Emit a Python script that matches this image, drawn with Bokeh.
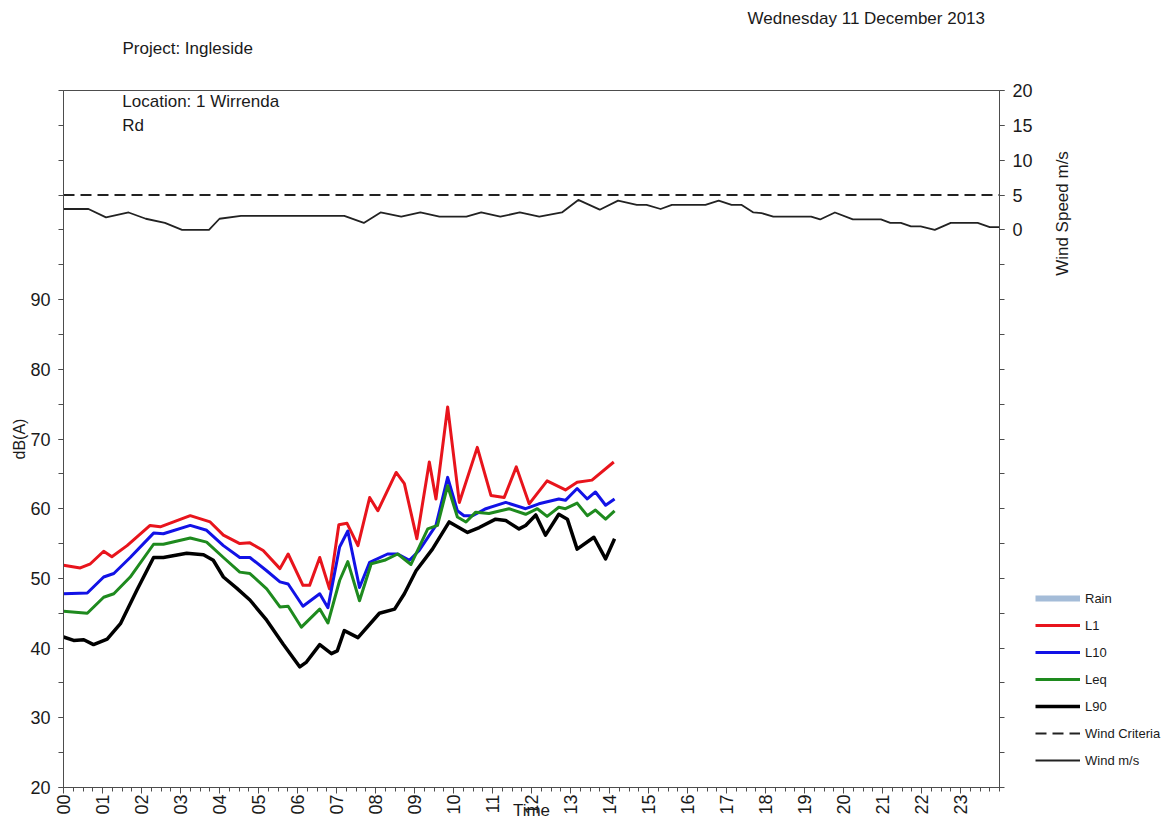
import math
from bokeh.plotting import figure
from bokeh.layouts import row, column
from bokeh.models import (Range1d, LinearAxis, FixedTicker, Legend, LegendItem)
from bokeh.core.properties import value
from bokeh.embed import file_html
from bokeh.resources import INLINE

# ---------------- data (hours of day, dB(A) / m/s) ----------------
l1_t = [0.0, 0.43, 0.69, 1.03, 1.24, 1.63, 2.22, 2.48, 3.25, 3.76, 4.1, 4.52, 4.78, 5.12, 5.55, 5.76,
        6.14, 6.31, 6.57, 6.82, 7.06, 7.27, 7.55, 7.85, 8.06, 8.53, 8.74, 9.06, 9.38, 9.55, 9.85,
        10.15, 10.61, 10.96, 11.3, 11.61, 11.94, 12.4, 12.87, 13.17, 13.55, 14.11]
l1_v = [51.9, 51.5, 52.1, 53.9, 53.1, 54.7, 57.6, 57.4, 59.0, 58.1, 56.2, 55.0, 55.1, 54.0, 51.4, 53.5,
        49.0, 49.0, 53.0, 48.5, 57.7, 57.9, 54.7, 61.6, 59.7, 65.2, 63.6, 55.7, 66.7, 61.4, 74.6,
        60.9, 68.8, 61.9, 61.6, 66.0, 60.7, 64.0, 62.7, 63.8, 64.1, 66.7]

l10_t = [0.0, 0.61, 1.03, 1.29, 1.71, 2.31, 2.56, 3.25, 3.67, 4.1, 4.52, 4.78, 5.21, 5.55, 5.76,
         6.14, 6.57, 6.78, 7.08, 7.29, 7.59, 7.85, 8.31, 8.57, 8.87, 9.12, 9.55, 9.85, 10.1, 10.27,
         10.49, 10.83, 11.34, 11.85, 12.19, 12.7, 12.87, 13.17, 13.43, 13.64, 13.9, 14.13]
l10_v = [47.8, 47.9, 50.2, 50.7, 53.0, 56.5, 56.4, 57.6, 56.9, 54.7, 53.0, 53.0, 51.1, 49.5, 49.2,
         46.0, 47.8, 45.8, 54.5, 56.8, 48.7, 52.3, 53.5, 53.5, 52.6, 54.0, 57.6, 64.5, 59.7, 59.0,
         59.0, 60.0, 60.9, 60.0, 60.7, 61.4, 61.2, 62.9, 61.4, 62.4, 60.5, 61.4]

leq_t = [0.0, 0.61, 1.03, 1.29, 1.71, 2.31, 2.56, 3.25, 3.67, 4.1, 4.52, 4.78, 5.21, 5.55, 5.76,
         6.1, 6.57, 6.78, 7.08, 7.29, 7.59, 7.89, 8.23, 8.57, 8.91, 9.34, 9.59, 9.85, 10.1, 10.32,
         10.57, 10.91, 11.42, 11.85, 12.15, 12.4, 12.7, 12.87, 13.17, 13.43, 13.64, 13.9, 14.13]
leq_v = [45.3, 45.0, 47.3, 47.8, 50.2, 54.9, 54.9, 55.8, 55.2, 53.0, 50.9, 50.7, 48.5, 45.9, 46.0,
         43.0, 45.6, 43.6, 49.7, 52.4, 46.8, 52.1, 52.6, 53.5, 52.0, 57.1, 57.6, 63.3, 58.8, 58.1,
         59.5, 59.3, 60.0, 59.2, 60.0, 58.9, 60.2, 60.0, 60.8, 59.0, 59.8, 58.5, 59.7]

l90_t = [0.0, 0.26, 0.52, 0.77, 1.12, 1.46, 1.88, 2.31, 2.56, 3.16, 3.59, 3.84, 4.1, 4.44, 4.78,
         5.21, 5.63, 6.06, 6.23, 6.57, 6.87, 7.02, 7.2, 7.55, 8.1, 8.49, 8.74, 9.04, 9.46, 9.89,
         10.36, 10.66, 11.08, 11.34, 11.68, 11.85, 12.11, 12.36, 12.7, 12.92, 13.17, 13.6, 13.9, 14.13]
l90_v = [41.6, 41.1, 41.2, 40.5, 41.3, 43.5, 48.3, 53.0, 53.0, 53.6, 53.4, 52.6, 50.2, 48.6, 46.9,
         44.0, 40.6, 37.3, 38.0, 40.5, 39.2, 39.6, 42.5, 41.5, 45.0, 45.6, 47.8, 51.1, 54.2, 58.1,
         56.6, 57.3, 58.5, 58.3, 57.1, 57.6, 59.1, 56.2, 59.2, 58.5, 54.2, 55.9, 52.8, 55.7]

wind_t = [0.0, 0.64, 1.09, 1.67, 2.11, 2.6, 3.04, 3.73, 4.0, 4.55, 7.2, 7.7, 8.13, 8.66, 9.15, 9.64,
          10.33, 10.71, 11.2, 11.7, 12.2, 12.78, 13.2, 13.75, 14.22, 14.7, 14.95, 15.31, 15.6, 16.46,
          16.8, 17.13, 17.38, 17.69, 17.9, 18.2, 19.17, 19.4, 19.78, 20.24, 20.96, 21.2, 21.47, 21.73,
          21.98, 22.34, 22.75, 23.44, 23.75, 24.0]
wind_v = [3.0, 3.0, 1.8, 2.5, 1.6, 1.0, 0.0, 0.0, 1.6, 2.0, 2.0, 1.0, 2.5, 1.9, 2.5, 1.9,
          1.9, 2.5, 1.9, 2.5, 1.9, 2.5, 4.3, 2.9, 4.2, 3.6, 3.6, 3.0, 3.6, 3.6,
          4.2, 3.6, 3.6, 2.5, 2.4, 1.9, 1.9, 1.5, 2.5, 1.5, 1.5, 1.0, 1.0, 0.5,
          0.5, 0.0, 1.0, 1.0, 0.4, 0.4]

wind_criteria = 5.0
hour_labels = ["%02d" % h for h in range(24)]
db_ticks = [20, 30, 40, 50, 60, 70, 80, 90]
wind_ticks = [0, 5, 10, 15, 20]
legend_labels = ["Rain", "L1", "L10", "Leq", "L90", "Wind Criteria", "Wind m/s"]

FONT = "Liberation Sans"
TXT = "#1a1a1a"
AX = "#4d4d4d"
HEAD = 80           # header strip height (px)
MTOP = 10           # space above the chart frame inside the chart canvas
BODY_H = 742        # chart canvas height (px)
BOTTOM = 35
LEFT = 63
MAIN_W = 1035
SIDE_W = 137
FRAME_R = MAIN_W - 33        # right edge of the plotting frame (px)
FRAME_TOP = HEAD + MTOP      # page y of the frame top
FRAME_BOT = HEAD + BODY_H - BOTTOM

# styles shared by the plot lines and the legend samples
STY = {
    "Rain": dict(line_color="#a4bcd8", line_width=6),
    "L1": dict(line_color="#e8141c", line_width=3, line_join="round"),
    "L10": dict(line_color="#1212e6", line_width=3, line_join="round"),
    "Leq": dict(line_color="#1e8a1e", line_width=3, line_join="round"),
    "L90": dict(line_color="black", line_width=3.5, line_join="round"),
    "Wind Criteria": dict(line_color="#222222", line_width=2, line_dash="11 6"),
    "Wind m/s": dict(line_color="#222222", line_width=1.8, line_join="round"),
}

# ---- header strip (frame aligned with the chart frame, page pixel coordinates) ----
h = figure(width=MAIN_W, height=HEAD, output_backend="svg", toolbar_location=None, title=None,
           x_range=Range1d(LEFT, FRAME_R), y_range=Range1d(-HEAD, 0),
           x_axis_type=None, y_axis_type=None, min_border=0,
           min_border_left=LEFT, min_border_right=MAIN_W - FRAME_R, min_border_top=0,
           min_border_bottom=0, outline_line_color=None)
h.grid.visible = False
h.text(x=[122, 747], y=[-48, -18], text=["Project: Ingleside", "Wednesday 11 December 2013"],
       text_font=value(FONT), text_font_size="17px", text_color=TXT,
       text_align="left", text_baseline="middle")

# ---- main chart ----
p = figure(width=MAIN_W, height=BODY_H, output_backend="svg", toolbar_location=None, title=None,
           x_range=Range1d(0, 24), y_range=Range1d(20, 120),
           min_border_left=LEFT, min_border_right=MAIN_W - FRAME_R, min_border_top=MTOP,
           min_border_bottom=BOTTOM, background_fill_color="white", border_fill_color="white")
p.outline_line_color = AX
p.outline_line_width = 1
p.grid.visible = False
p.extra_y_ranges = {"wind": Range1d(-80, 20)}

xa = p.xaxis[0]
xa.ticker = FixedTicker(ticks=list(range(24)), minor_ticks=[i * 0.25 for i in range(97)])
xa.major_label_overrides = {i: hour_labels[i] for i in range(24)}
xa.major_label_orientation = math.pi / 2
xa.major_label_standoff = 1
xa.major_tick_out = 6
xa.major_tick_in = 0
xa.minor_tick_out = 4
xa.minor_tick_in = 0
xa.axis_label = "Time"
xa.axis_label_standoff = -17
xa.axis_label_text_font_size = "17px"

ya = p.yaxis[0]
ya.ticker = FixedTicker(ticks=db_ticks, minor_ticks=list(range(20, 121, 5)))
ya.major_label_standoff = 8
ya.major_tick_out = 5
ya.major_tick_in = 0
ya.minor_tick_out = 5
ya.minor_tick_in = 0
ya.axis_label = "dB(A)"
ya.axis_label_standoff = -1
ya.axis_label_text_font_size = "16px"

ra = LinearAxis(y_range_name="wind")
ra.ticker = FixedTicker(ticks=wind_ticks, minor_ticks=list(range(-80, 21, 5)))
ra.major_label_standoff = 8
ra.major_tick_out = 5
ra.major_tick_in = 0
ra.minor_tick_out = 5
ra.minor_tick_in = 0
p.add_layout(ra, "right")

for ax in (xa, ya, ra):
    ax.axis_line_color = AX
    ax.major_tick_line_color = AX
    ax.minor_tick_line_color = AX
    ax.major_label_text_font = FONT
    ax.major_label_text_font_size = "18px"
    ax.major_label_text_color = TXT
    ax.axis_label_text_font = FONT
    ax.axis_label_text_font_style = "normal"
    ax.axis_label_text_color = TXT

p.line(l1_t, l1_v, **STY["L1"])
p.line(l10_t, l10_v, **STY["L10"])
p.line(leq_t, leq_v, **STY["Leq"])
p.line(l90_t, l90_v, **STY["L90"])
p.line([0, 24], [wind_criteria, wind_criteria], y_range_name="wind", **STY["Wind Criteria"])
p.line(wind_t, wind_v, y_range_name="wind", **STY["Wind m/s"])

# location note inside the frame
p.text(x=[(122 - 63) / 39.125] * 2, y=[20 + (787 - 101) / 6.97, 20 + (787 - 125) / 6.97],
       text=["Location: 1 Wirrenda", "Rd"], text_font=value(FONT), text_font_size="17px",
       text_color=TXT, text_baseline="middle", text_align="left")

# ---- side panel: right-axis title and legend (page pixel coordinates, y negated) ----
s = figure(width=SIDE_W, height=BODY_H, output_backend="svg", toolbar_location=None, title=None,
           x_range=Range1d(0, SIDE_W), y_range=Range1d(-FRAME_BOT, -FRAME_TOP),
           x_axis_type=None, y_axis_type=None, min_border=0,
           min_border_left=0, min_border_right=0, min_border_top=MTOP,
           min_border_bottom=BOTTOM, outline_line_color=None)
s.grid.visible = False
s.text(x=[1062 - MAIN_W], y=[-213], text=["Wind Speed m/s"], angle=math.pi / 2,
       text_font=value(FONT), text_font_size="17px", text_color=TXT,
       text_align="center", text_baseline="middle")

items = []
for lab in legend_labels:
    r = s.line(x=[-1000, -999], y=[-5000, -5000], **STY[lab])
    items.append(LegendItem(label=lab, renderers=[r]))
legend = Legend(items=items, location=(0, FRAME_BOT - 770))
legend.padding = 0
legend.margin = 0
legend.spacing = 7
legend.glyph_width = 45
legend.glyph_height = 20
legend.label_height = 20
legend.label_standoff = 5
legend.label_text_font = FONT
legend.label_text_font_size = "13px"
legend.label_text_color = TXT
legend.border_line_color = None
legend.background_fill_alpha = 0
s.add_layout(legend, "center")

layout = column(h, row(p, s, spacing=0), spacing=0)
open("out.html", "w").write(file_html(layout, INLINE))
